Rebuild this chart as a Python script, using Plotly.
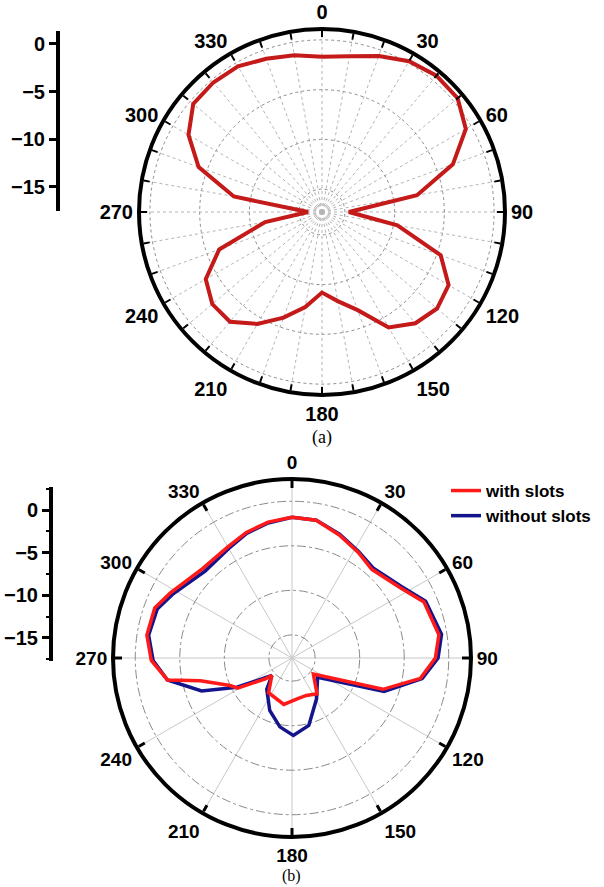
import plotly.graph_objects as go

W, H = 604, 887

# ---------------- data (a) ----------------
a_theta = [0, 10, 20, 30, 40, 50, 60, 70, 80, 90, 100, 110, 120, 130, 140, 150, 160, 170,
           180, 190, 200, 210, 220, 230, 240, 250, 260, 270, 280, 290, 300, 310, 320, 330, 340, 350]
a_gain = [-1.7, -1.4, -0.6, 0.2, 0.6, 0.5, -0.6, -3.3, -7.6, -14.6, -9.6, -4.6, -2.6, -2.2, -2.7,
          -3.9, -6.8, -8.2, -9.2, -7.6, -6.0, -4.3, -2.9, -2.9, -3.8, -6.3, -11.5, -15.9, -8.3,
          -4.1, -1.8, -0.4, -0.3, -0.4, -0.9, -1.3]

# ---------------- data (b) ----------------
with_theta = [0, 10, 21, 32, 42, 57, 67, 81, 90, 99, 109, 127, 145, 159, 171, 190, 214, 229, 232,
              241, 246, 256, 260, 269, 279, 290, 298, 315, 330, 340, 350]
with_gain = [-1.8, -1.9, -2.8, -3.6, -4.2, -3.1, -1.5, -0.9, -1.5, -3.0, -6.8, -14.6, -12.7, -13.1,
             -13.0, -12.3, -12.9, -14.6, -13.8, -10.6, -10.0, -7.0, -3.4, -1.8, -1.1, -1.2, -2.1,
             -3.4, -3.2, -2.6, -2.1]

without_theta = [0, 10, 21, 32, 42, 57, 67, 81, 90, 99, 110, 127, 149, 166, 179, 190, 203, 219,
                 229, 242, 250, 260, 269, 279, 290, 298, 315, 330, 340, 350]
without_gain = [-1.8, -1.9, -2.7, -3.5, -4.0, -2.9, -1.3, -0.6, -1.2, -2.8, -6.6, -14.0, -12.25,
                -9.8, -8.9, -9.75, -11.2, -13.1, -14.6, -10.6, -6.8, -3.4, -2.0, -1.3, -1.5, -2.4,
                -3.8, -3.4, -2.7, -2.2]

series_names = ["with slots", "without slots"]
angle_labels = [0, 30, 60, 90, 120, 150, 180, 210, 240, 270, 300, 330]
radial_ticks = [0, -5, -10, -15]

range_a = [-17.3, 1.1]
range_b = [-17.6, 2.5]
scale_a = [-17.52, 1.36]
scale_b = [-17.7, 2.7]


def closed(v):
    return list(v) + [v[0]]


def px(x):
    return x / W


def py(y):
    return 1 - y / H


fig = go.Figure()

fig.add_trace(go.Scatterpolar(theta=closed(a_theta), r=closed(a_gain), mode="lines",
                              line=dict(color="#c41a1a", width=4), subplot="polar",
                              showlegend=False))
fig.add_trace(go.Scatterpolar(theta=closed(without_theta), r=closed(without_gain), mode="lines",
                              line=dict(color="#14148c", width=3.5), subplot="polar2",
                              name=series_names[1]))
fig.add_trace(go.Scatterpolar(theta=closed(with_theta), r=closed(with_gain), mode="lines",
                              line=dict(color="#ff1a1a", width=3.5), subplot="polar2",
                              name=series_names[0]))
# empty traces so the two dB scale axes are rendered
fig.add_trace(go.Scatter(x=[], y=[], xaxis="x", yaxis="y", showlegend=False, hoverinfo="skip"))
fig.add_trace(go.Scatter(x=[], y=[], xaxis="x2", yaxis="y2", showlegend=False, hoverinfo="skip"))

tickfont = dict(family="Liberation Sans", size=20, color="black", weight="bold")
tickfont_b = dict(family="Liberation Sans", size=19, color="black", weight="bold")

a_ticks = list(range(0, 360, 10))
a_text = [str(t) if t % 30 == 0 else "" for t in a_ticks]

cA = (322, 212)
rA = 183
cB = (292, 658)
rB = 179

fig.update_layout(
    width=W, height=H, margin=dict(l=0, r=0, t=0, b=0),
    paper_bgcolor="white", plot_bgcolor="rgba(0,0,0,0)",
    polar=dict(
        domain=dict(x=[px(cA[0] - rA), px(cA[0] + rA)], y=[py(cA[1] + rA), py(cA[1] - rA)]),
        bgcolor="white",
        angularaxis=dict(rotation=90, direction="clockwise", tickmode="array",
                         tickvals=a_ticks, ticktext=a_text, ticks="inside", ticklen=6,
                         tickwidth=2, tickcolor="black", showline=True, linecolor="black",
                         linewidth=4, gridcolor="#b4b4b4", griddash="dot", gridwidth=1,
                         tickfont=tickfont),
        radialaxis=dict(range=range_a, tickmode="array", tickvals=radial_ticks,
                        showticklabels=False, ticks="", showline=False,
                        gridcolor="#8c8c8c", griddash="dot", gridwidth=1),
    ),
    polar2=dict(
        domain=dict(x=[px(cB[0] - rB), px(cB[0] + rB)], y=[py(cB[1] + rB), py(cB[1] - rB)]),
        bgcolor="white",
        angularaxis=dict(rotation=90, direction="clockwise", tickmode="array",
                         tickvals=angle_labels, ticktext=[str(t) for t in angle_labels],
                         ticks="inside", ticklen=7, tickwidth=2.5, tickcolor="black",
                         showline=True, linecolor="black", linewidth=4,
                         gridcolor="#c8c8c8", gridwidth=1, tickfont=tickfont_b),
        radialaxis=dict(range=range_b, tickmode="array", tickvals=radial_ticks,
                        showticklabels=False, ticks="", showline=False,
                        gridcolor="#8a8a8a", griddash="dashdot", gridwidth=1),
    ),
    xaxis=dict(domain=[px(60), px(62)], visible=False, anchor="y", range=[0, 1]),
    yaxis=dict(domain=[py(211), py(31)], range=scale_a, anchor="x",
               showline=True, linecolor="black", linewidth=4, ticks="outside", ticklen=7,
               tickwidth=3, tickcolor="black", tickmode="array", tickvals=radial_ticks,
               showgrid=False, zeroline=False, tickfont=tickfont, fixedrange=True),
    xaxis2=dict(domain=[px(53), px(55)], visible=False, anchor="y2", range=[0, 1]),
    yaxis2=dict(domain=[py(661), py(487)], range=scale_b, anchor="x2",
                showline=True, linecolor="black", linewidth=4, ticks="outside", ticklen=7,
                tickwidth=3, tickcolor="black", tickmode="array", tickvals=radial_ticks,
                minor=dict(dtick=2.5, ticks="outside", ticklen=3, tickwidth=2, tickcolor="black"),
                showgrid=False, zeroline=False, tickfont=tickfont, fixedrange=True),
    legend=dict(x=px(446), y=py(473), xanchor="left", yanchor="top",
                bgcolor="rgba(0,0,0,0)", traceorder="reversed",
                font=dict(family="Liberation Sans", size=17, color="black", weight="bold"),
                tracegroupgap=0, itemwidth=30),
    annotations=[
        dict(text="(a)", x=px(322), y=py(437), xref="paper", yref="paper", showarrow=False,
             xanchor="center", yanchor="middle",
             font=dict(family="Liberation Serif", size=18, color="black")),
        dict(text="(b)", x=px(291), y=py(876), xref="paper", yref="paper", showarrow=False,
             xanchor="center", yanchor="middle", borderpad=0,
             font=dict(family="Liberation Serif", size=16, color="black")),
    ],
)

fig.write_html("out.html")
